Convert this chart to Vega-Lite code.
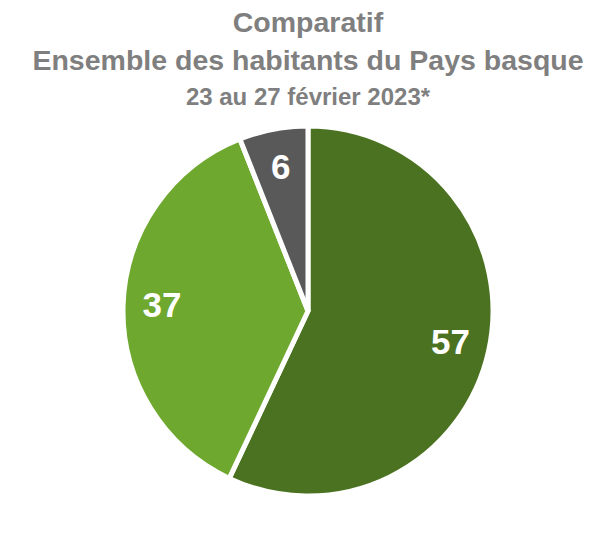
{
  "$schema": "https://vega.github.io/schema/vega-lite/v6.json",
  "width": 560,
  "height": 400,
  "autosize": {"type": "none"},
  "padding": {"left": 28, "top": 111, "right": 10, "bottom": 30},
  "background": "white",
  "title": {
    "text": ["Comparatif", "Ensemble des habitants du Pays basque"],
    "subtitle": "23 au 27 février 2023*",
    "anchor": "middle",
    "font": "Liberation Sans",
    "fontSize": 28.5,
    "fontWeight": "bold",
    "color": "#7F7F7F",
    "lineHeight": 38,
    "subtitleFont": "Liberation Sans",
    "subtitleFontSize": 24,
    "subtitleFontWeight": "bold",
    "subtitleColor": "#7F7F7F",
    "subtitlePadding": 11,
    "offset": 1
  },
  "data": {
    "values": [
      {"categorie": "A", "valeur": 57, "ordre": 1},
      {"categorie": "B", "valeur": 37, "ordre": 2},
      {"categorie": "C", "valeur": 6, "ordre": 3}
    ]
  },
  "encoding": {
    "theta": {"field": "valeur", "type": "quantitative", "stack": true},
    "order": {"field": "ordre", "type": "quantitative"},
    "color": {
      "field": "categorie",
      "type": "nominal",
      "scale": {"domain": ["A", "B", "C"], "range": ["#4A7220", "#6EA82E", "#595959"]},
      "legend": null
    }
  },
  "layer": [
    {
      "mark": {"type": "arc", "outerRadius": 185, "stroke": "white", "strokeWidth": 5}
    },
    {
      "mark": {"type": "text", "radius": 146, "font": "Liberation Sans", "fontSize": 35, "fontWeight": "bold", "fill": "white", "baseline": "middle", "align": "center"},
      "encoding": {
        "text": {"field": "valeur", "type": "quantitative"},
        "color": {"value": "white"}
      }
    }
  ],
  "config": {"view": {"stroke": null}}
}
